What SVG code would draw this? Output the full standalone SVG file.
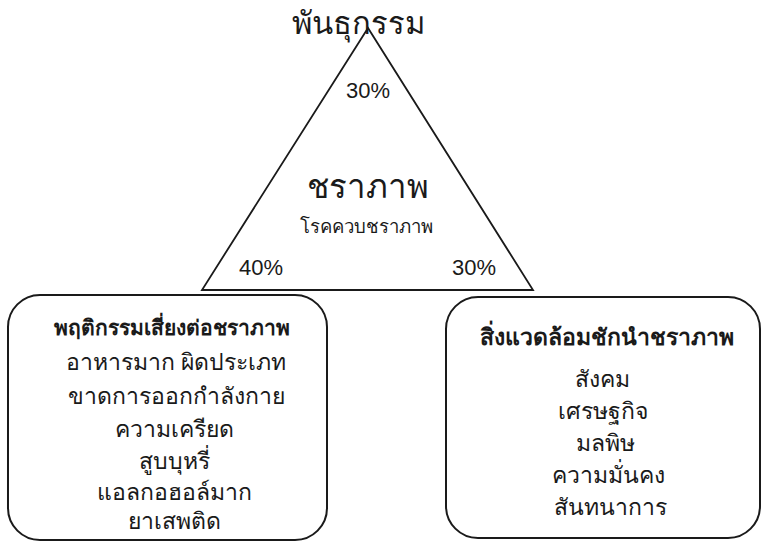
<svg xmlns="http://www.w3.org/2000/svg" width="762" height="542" viewBox="0 0 762 542">
<style>
.th{font-family:"Noto Sans","DejaVu Sans",sans-serif;fill:#1a1a1a;text-anchor:middle}
.pc{font-family:"Liberation Sans",Arial,sans-serif;font-size:22px;fill:#1a1a1a;text-anchor:middle}
.box{fill:#fff;stroke:#1a1a1a;stroke-width:2}
.body{font-size:23px}
.ttl{font-size:22px;font-weight:bold}
</style>
<rect width="762" height="542" fill="#fff"/>
<g id="triangle">
<polygon points="368,28 202,290 533,290" fill="none" stroke="#1a1a1a" stroke-width="1.8"/>
<text class="th" x="358" y="34" font-size="31">พันธุกรรม</text>
<text class="pc" x="368" y="98">30%</text>
<text class="th" x="368" y="198" font-size="33">ชราภาพ</text>
<text class="th" x="366" y="233" font-size="18.5">โรคควบชราภาพ</text>
<text class="pc" x="261" y="275">40%</text>
<text class="pc" x="474" y="275">30%</text>
</g>
<g id="risk-behaviour">
<rect class="box" x="8" y="295" width="319" height="245" rx="32" ry="32"/>
<text class="th ttl" x="172" y="335" style="font-size:21px">พฤติกรรมเสี่ยงต่อชราภาพ</text>
<text class="th body" x="176" y="370">อาหารมาก ผิดประเภท</text>
<text class="th body" x="176" y="404">ขาดการออกกำลังกาย</text>
<text class="th body" x="174" y="437">ความเครียด</text>
<text class="th body" x="174" y="469">สูบบุหรี่</text>
<text class="th body" x="174" y="500">แอลกอฮอล์มาก</text>
<text class="th body" x="174" y="529">ยาเสพติด</text>
</g>
<g id="environment">
<rect class="box" x="446" y="297" width="314" height="241" rx="32" ry="32"/>
<text class="th ttl" x="607" y="345" style="font-size:23px">สิ่งแวดล้อมชักนำชราภาพ</text>
<text class="th body" x="602" y="387">สังคม</text>
<text class="th body" x="603" y="419">เศรษฐกิจ</text>
<text class="th body" x="605" y="451">มลพิษ</text>
<text class="th body" x="608" y="483">ความมั่นคง</text>
<text class="th body" x="610" y="515">สันทนาการ</text>
</g>
<g id="connectors"></g>
</svg>
